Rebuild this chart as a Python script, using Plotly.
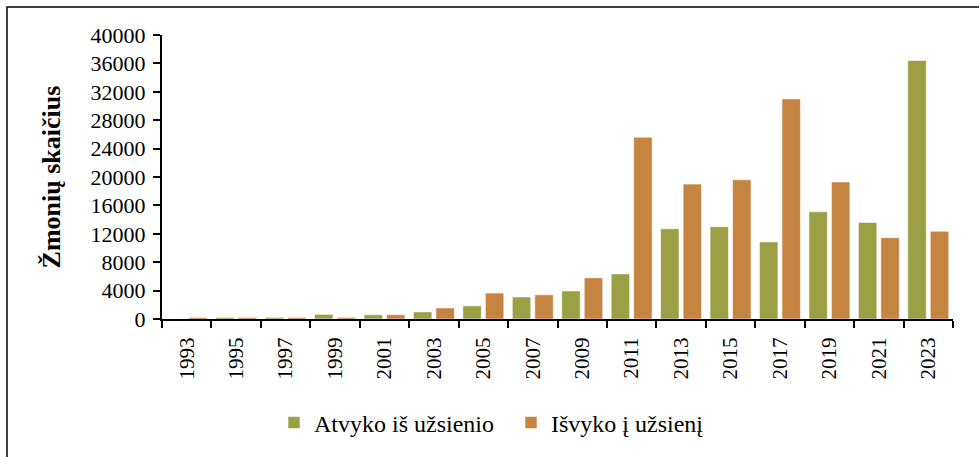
import plotly.graph_objects as go

years = ["1993", "1995", "1997", "1999", "2001", "2003", "2005", "2007",
         "2009", "2011", "2013", "2015", "2017", "2019", "2021", "2023"]
atvyko = [0, 220, 220, 650, 600, 1000, 1850, 3100,
          3950, 6350, 12700, 13000, 10850, 15100, 13600, 36400]
isvyko = [220, 220, 220, 220, 600, 1550, 3650, 3400,
          5800, 25600, 19000, 19600, 31000, 19300, 11450, 12350]
y_ticks = [0, 4000, 8000, 12000, 16000, 20000, 24000, 28000, 32000, 36000, 40000]

FONT = "Liberation Serif"
GREEN = "#9BA044"
ORANGE = "#C5843F"

fig = go.Figure()
fig.add_trace(go.Bar(x=years, y=atvyko, name="Atvyko iš užsienio",
                     marker=dict(color=GREEN, line=dict(color="rgba(255,255,255,0.55)", width=1))))
fig.add_trace(go.Bar(x=years, y=isvyko, name="Išvyko į užsienį",
                     marker=dict(color=ORANGE, line=dict(color="rgba(255,255,255,0.55)", width=1))))

L, R, T, B = 162, 26, 35, 138
W, H = 979, 457
pw, ph = W - L - R, H - T - B

def px(x):
    return (x - L) / pw

def py(y):
    return (H - B - y) / ph

fig.update_layout(
    width=W, height=H,
    margin=dict(l=L, r=R, t=T, b=B, autoexpand=False),
    paper_bgcolor="white", plot_bgcolor="white",
    barmode="group", bargap=0.09, bargroupgap=0.18,
    font=dict(family=FONT, size=20, color="black"),
    showlegend=True,
    legend=dict(orientation="h", x=px(274), xanchor="left", y=py(423), yanchor="middle",
                font=dict(family=FONT, size=24, color="black"), itemwidth=30,
                entrywidth=192, traceorder="normal", bgcolor="rgba(0,0,0,0)"),
    shapes=[dict(type="rect", xref="paper", yref="paper",
                 x0=px(7), x1=px(1000), y0=py(480), y1=py(7),
                 line=dict(color="black", width=1.5), fillcolor="rgba(0,0,0,0)", layer="below")],
)
fig.update_xaxes(type="category", showline=True, linecolor="black", linewidth=2,
                 ticks="outside", tickson="boundaries", ticklen=7, tickwidth=2, tickcolor="black",
                 tickangle=-90, tickfont=dict(family=FONT, size=21), showgrid=False,
                 ticklabelstandoff=8)
fig.update_yaxes(range=[0, 40000], tickvals=y_ticks, tickformat="d", showline=True,
                 linecolor="black", linewidth=2, ticks="outside", ticklen=7, tickwidth=2,
                 tickcolor="black", showgrid=False, zeroline=False,
                 tickfont=dict(family=FONT, size=22), ticklabelstandoff=3,
                 title=dict(text="<b>Žmonių skaičius</b>", font=dict(family=FONT, size=26),
                            standoff=22))
fig.write_html("out.html", config={"displayModeBar": False},
               post_script="document.body.style.margin='0px';document.body.style.overflow='hidden';")
